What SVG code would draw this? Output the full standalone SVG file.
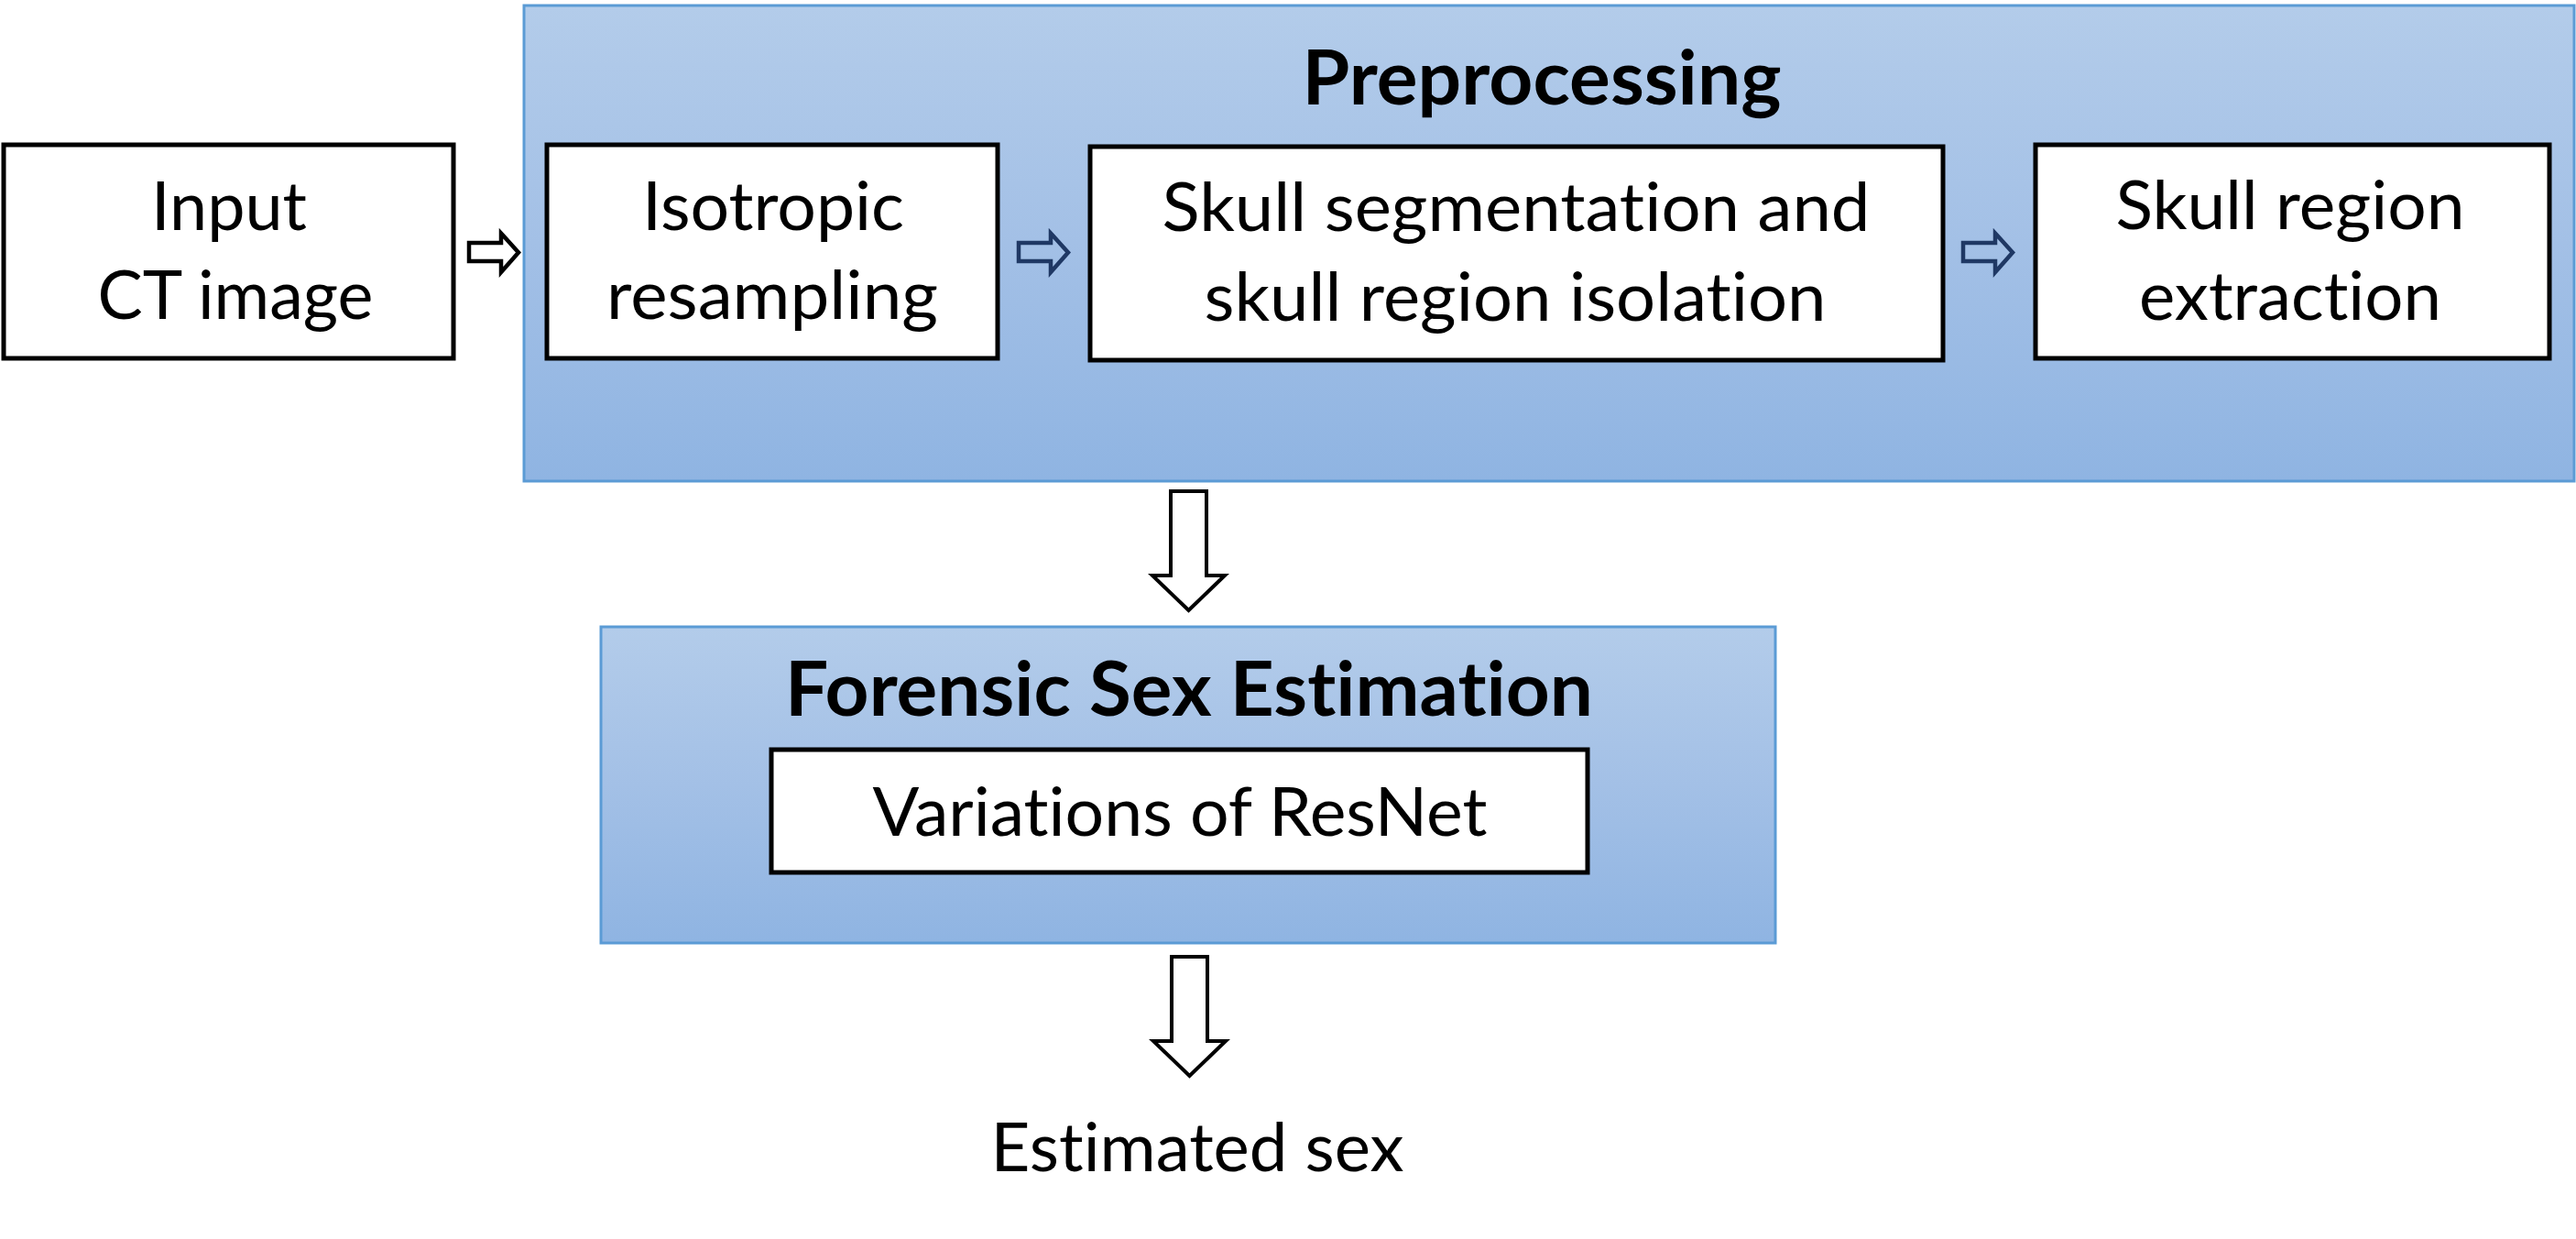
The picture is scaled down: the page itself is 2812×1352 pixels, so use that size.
<svg xmlns="http://www.w3.org/2000/svg" width="2812" height="1352" viewBox="0 0 2812 1352">
  <defs>
    <linearGradient id="blueGrad" x1="0" y1="0" x2="0" y2="1">
      <stop offset="0" stop-color="#B3CCEA"/>
      <stop offset="0.5" stop-color="#A3C0E6"/>
      <stop offset="1" stop-color="#8FB4E2"/>
    </linearGradient>
    <style>
      .group { fill: url(#blueGrad); stroke: #5B9BD5; stroke-width: 3; }
      .box { fill: #FFFFFF; stroke: #000000; stroke-width: 5; }
      .txt { font-family: Lato, "Open Sans", "Liberation Sans", sans-serif; font-size: 74px; fill: #000000; text-anchor: middle; font-variant-ligatures: none; }
      .title { font-family: Lato, "Open Sans", "Liberation Sans", sans-serif; font-size: 82px; font-weight: bold; fill: #000000; text-anchor: middle; font-variant-ligatures: none; }
      .arrowBlack { fill: none; stroke: #000000; stroke-width: 4.5; stroke-miterlimit: 10; }
      .arrowNavy { fill: none; stroke: #1F3864; stroke-width: 4.5; stroke-miterlimit: 10; }
      .arrowDown { fill: #FFFFFF; stroke: #000000; stroke-width: 4; stroke-miterlimit: 10; }
    </style>
  </defs>
  <rect width="2812" height="1352" fill="#FFFFFF"/>

  <g id="preprocessing">
    <rect class="group" x="572" y="6" width="2238" height="519"/>
    <text class="title" x="1683" y="114" textLength="523" lengthAdjust="spacingAndGlyphs">Preprocessing</text>
  </g>

  <g id="forensic-sex-estimation">
    <rect class="group" x="656" y="684" width="1282" height="345"/>
    <text class="title" x="1298" y="781" textLength="882" lengthAdjust="spacingAndGlyphs">Forensic Sex Estimation</text>
  </g>

  <g id="input-ct-image">
    <rect class="box" x="4" y="158" width="491" height="233"/>
    <text class="txt" x="250" y="251" textLength="170" lengthAdjust="spacingAndGlyphs">Input</text>
    <text class="txt" x="257" y="348" textLength="301" lengthAdjust="spacingAndGlyphs">CT image</text>
  </g>

  <g id="isotropic-resampling">
    <rect class="box" x="597" y="158" width="492" height="233"/>
    <text class="txt" x="844" y="251" textLength="286" lengthAdjust="spacingAndGlyphs">Isotropic</text>
    <text class="txt" x="843" y="348" textLength="362" lengthAdjust="spacingAndGlyphs">resampling</text>
  </g>

  <g id="skull-segmentation">
    <rect class="box" x="1190" y="160" width="931" height="233"/>
    <text class="txt" x="1655" y="252" textLength="773" lengthAdjust="spacingAndGlyphs">Skull segmentation and</text>
    <text class="txt" x="1654" y="350" textLength="679" lengthAdjust="spacingAndGlyphs">skull region isolation</text>
  </g>

  <g id="skull-region-extraction">
    <rect class="box" x="2222" y="158" width="561" height="233"/>
    <text class="txt" x="2500" y="250" textLength="381" lengthAdjust="spacingAndGlyphs">Skull region</text>
    <text class="txt" x="2500" y="349" textLength="330" lengthAdjust="spacingAndGlyphs">extraction</text>
  </g>

  <g id="variations-of-resnet">
    <rect class="box" x="842" y="818" width="891" height="134"/>
    <text class="txt" x="1288" y="912" textLength="671" lengthAdjust="spacingAndGlyphs">Variations of ResNet</text>
  </g>

  <g id="estimated-sex">
    <text class="txt" x="1307" y="1278" textLength="451" lengthAdjust="spacingAndGlyphs">Estimated sex</text>
  </g>

  <g id="connectors">
    <polygon class="arrowBlack" points="512,265 547,265 547,254.5 566,275.5 547,297 547,285 512,285"/>
    <polygon class="arrowNavy" transform="translate(600,0)" points="512,265 547,265 547,254.5 566,275.5 547,297 547,285 512,285"/>
    <polygon class="arrowNavy" transform="translate(1631,0)" points="512,265 547,265 547,254.5 566,275.5 547,297 547,285 512,285"/>
    <polygon class="arrowDown" points="1278,536 1317,536 1317,628 1337,628 1297.5,666 1258,628 1278,628"/>
    <polygon class="arrowDown" transform="translate(1,508)" points="1278,536 1317,536 1317,628 1337,628 1297.5,666 1258,628 1278,628"/>
  </g>
</svg>
